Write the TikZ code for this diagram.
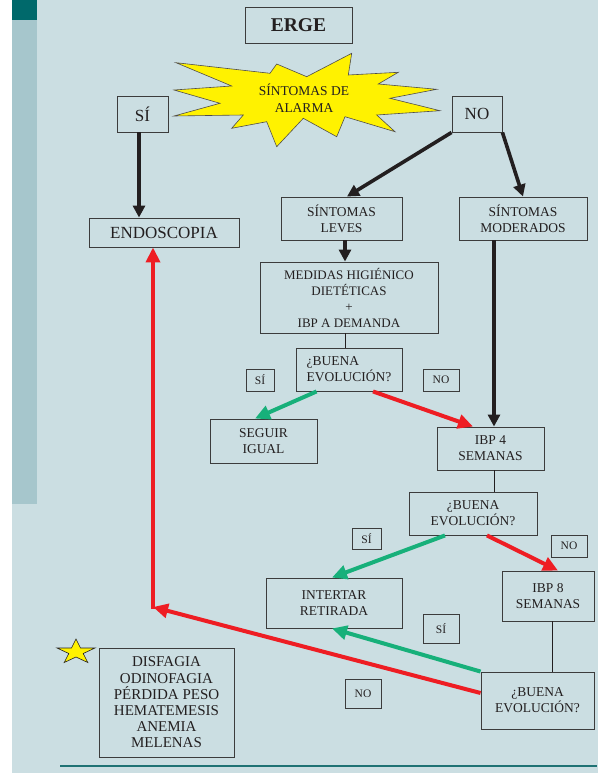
\documentclass[tikz,border=0pt]{standalone}
\usepackage{fontspec}
\setmainfont{Liberation Serif}
\usetikzlibrary{arrows.meta,calc}
\definecolor{bg}{HTML}{CBDEE2}
\definecolor{strip}{HTML}{A6C6CC}
\definecolor{teal}{HTML}{00696B}
\definecolor{tline}{HTML}{1F7274}
\definecolor{ink}{HTML}{231F20}
\definecolor{boxline}{HTML}{3C3C3C}
\definecolor{ared}{HTML}{EE1D23}
\definecolor{agreen}{HTML}{17B07A}
\definecolor{byellow}{HTML}{FFF200}
\tikzset{
  box/.style={draw=boxline, line width=0.9pt, inner sep=0pt, text=ink, align=center,
    font=\fontsize{13.5}{16}\selectfont},
  bigtxt/.style={font=\fontsize{17}{20}\selectfont},
  smalllab/.style={draw=boxline, line width=0.9pt, inner sep=0pt, text=ink,
    font=\fontsize{11.5}{13}\selectfont},
  blackarrow/.style={draw=ink, line width=3.6pt, -{Triangle[length=12pt,width=12pt]}},
  redarrow/.style={draw=ared, line width=4pt, -{Triangle[length=15pt,width=14pt]}},
  redline/.style={draw=ared, line width=4pt},
  greenarrow/.style={draw=agreen, line width=4pt, -{Triangle[length=15pt,width=14pt]}},
  thinline/.style={draw=ink, line width=0.9pt},
}
\begin{document}
\begin{tikzpicture}[x=1pt,y=-1pt]
\useasboundingbox (0,0) rectangle (603,773);
% background
\fill[bg] (12,0) rectangle (598,773);
\fill[strip] (12,20) rectangle (37,504);
\fill[teal] (12,0) rectangle (37,20);
\draw[tline, line width=2pt] (60,766) -- (597,766);

% starburst
\draw[fill=byellow, draw=ink!80, line width=0.6pt] (176,62.7) -- (270,73.3) -- (276.7,64) -- (306.7,76.7) -- (351.7,53.3) -- (348.3,75) -- (398.3,72.3) -- (378.3,84) -- (436.7,89.3) -- (390,98.3) -- (440,110.7) -- (376.7,115) -- (395,131.7) -- (345,116.7) -- (336.7,136.7) -- (303.3,118.3) -- (276.7,146.7) -- (266.7,121.7) -- (231.7,128.3) -- (243.3,115) -- (174,116) -- (220,103.3) -- (174,90) -- (231.7,86) -- cycle;
\node[text=ink, align=center, font=\fontsize{13.5}{17}\selectfont] (alarm) at (304,98.5) {SÍNTOMAS DE\\ALARMA};

% small star
\draw[fill=byellow, draw=ink, line width=0.6pt] (76,639) -- (71.5,648) -- (57,648) -- (68.8,653.5) -- (64.2,662.5) -- (76,657) -- (87.8,662.5) -- (83.2,653.5) -- (95,648) -- (80.5,648) -- cycle;

% boxes
\node[box, font=\fontsize{19.5}{22}\bfseries\selectfont, minimum width=107pt, minimum height=36pt] (erge) at (298.5,25) {ERGE};
\node[box, bigtxt, minimum width=51pt, minimum height=36pt] (si) at (142.5,114) {SÍ};
\node[box, bigtxt, minimum width=50pt, minimum height=36pt] (no) at (477,114) {NO};
\node[box, bigtxt, minimum width=150pt, minimum height=29pt] (endo) at (164,232.5) {ENDOSCOPIA};
\node[box, minimum width=121pt, minimum height=43pt] (leves) at (341.5,218.5) {SÍNTOMAS\\LEVES};
\node[box, minimum width=128pt, minimum height=43pt] (moder) at (523,218.5) {SÍNTOMAS\\MODERADOS};
\node[box, font=\fontsize{13}{16}\selectfont, minimum width=178pt, minimum height=71pt] (medidas) at (349,297.5) {MEDIDAS HIGIÉNICO\\DIETÉTICAS\\+\\IBP A DEMANDA};
\node[box, align=left, minimum width=106pt, minimum height=43pt] (be1) at (349,369.5) {¿BUENA\\EVOLUCIÓN?};
\node[smalllab, minimum width=28pt, minimum height=22pt] (si1) at (260,380) {SÍ};
\node[smalllab, minimum width=36pt, minimum height=22pt] (no1) at (441,380) {NO};
\node[box, minimum width=107pt, minimum height=44pt] (seguir) at (263.5,441) {SEGUIR\\IGUAL};
\node[box, minimum width=107pt, minimum height=43pt] (ibp4) at (490.5,448.5) {IBP 4\\SEMANAS};
\node[box, minimum width=128pt, minimum height=43pt] (be2) at (473,513.5) {¿BUENA\\EVOLUCIÓN?};
\node[smalllab, minimum width=29pt, minimum height=21pt] (si2) at (366.5,538.5) {SÍ};
\node[smalllab, minimum width=36pt, minimum height=22pt] (no2) at (569,546) {NO};
\node[box, minimum width=136pt, minimum height=50pt] (intertar) at (334,603) {INTERTAR\\RETIRADA};
\node[box, minimum width=92pt, minimum height=50pt] (ibp8) at (548,596) {IBP 8\\SEMANAS};
\node[smalllab, minimum width=36pt, minimum height=29pt] (si3) at (441,628.5) {SÍ};
\node[box, minimum width=113pt, minimum height=57pt] (be3) at (537.5,700.5) {¿BUENA\\EVOLUCIÓN?};
\node[smalllab, minimum width=36pt, minimum height=29pt] (no4) at (363,693.5) {NO};
\node[box, font=\fontsize{15}{16.2}\selectfont, minimum width=135pt, minimum height=109pt] (sint) at (166.5,702.5) {DISFAGIA\\ODINOFAGIA\\PÉRDIDA PESO\\HEMATEMESIS\\ANEMIA\\MELENAS};

\coordinate (corner) at (153,607);

% black arrows
\draw[blackarrow] ($(si.south)+(-3.5,0)$) -- ($(si.south |- endo.north)+(-3.5,0)$);
\draw[blackarrow] (no.south west) -- ($(leves.north)+(5.5,0)$);
\draw[blackarrow] (no.south east) -- (moder.north);
\draw[blackarrow] ($(leves.south)+(3.5,0)$) -- ($(leves.south |- medidas.north)+(3.5,0)$);
\draw[blackarrow] ($(ibp4.north |- moder.south)+(3.5,0)$) -- ($(ibp4.north)+(3.5,0)$);

% thin connectors
\draw[thinline] ($(medidas.south)+(-4,0)$) -- ($(medidas.south |- be1.north)+(-4,0)$);
\draw[thinline] ($(ibp4.south)+(3.5,0)$) -- ($(ibp4.south |- be2.north)+(3.5,0)$);
\draw[thinline] ($(ibp8.south)+(4,0)$) -- ($(ibp8.south |- be3.north)+(4,0)$);

% green arrows
\draw[greenarrow] ($(be1.south west)+(21,0)$) -- ($(seguir.north)+(-8.5,0)$);
\draw[greenarrow] ($(be2.south)+(-28,0)$) -- ($(intertar.north)+(-2,0)$);
\draw[greenarrow] (be3.north west) -- ($(intertar.south)+(-2,0)$);

% red arrows
\draw[redarrow] ($(be1.south)+(24,0)$) -- ($(ibp4.north)+(-17.5,0)$);
\draw[redarrow] ($(be2.south)+(14,0)$) -- ($(ibp8.north)+(10,0)$);
\draw[redarrow] ($(be3.west)+(0,-7.5)$) -- (corner);
\draw[redarrow] ($(corner)+(0,2)$) -- (corner |- endo.south);
\end{tikzpicture}
\end{document}
